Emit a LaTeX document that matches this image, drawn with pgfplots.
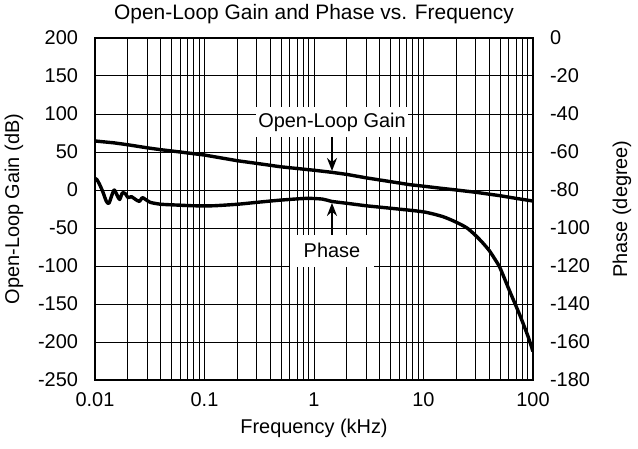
\documentclass[border=0pt]{standalone}
\usepackage{fontspec}
\setmainfont{Liberation Sans}
\usepackage{pgfplots}
\pgfplotsset{compat=1.18}
\usetikzlibrary{arrows.meta,calc}

% gain (dB) vs frequency (kHz)
\pgfplotstableread{
f      g
0.01   64.5
0.015  62
0.02   59.5
0.03   55.5
0.04   53
0.06   50
0.1    46
0.2    38.5
0.3    35
0.5    30.5
1      26
1.45   23.3
2      20.5
3      16
5      11
7.5    7
10     5
15     2
20     0
30     -3
50     -7.5
70     -11
100    -14.5
}\gaintab

% phase (degree) vs frequency (kHz)
\pgfplotstableread{
f      p
0.0100 -74
0.0104 -74.5
0.0110 -77
0.0118 -81
0.0127 -86
0.0134 -87
0.0142 -83
0.0150 -80
0.0160 -83
0.0168 -85
0.0178 -81.5
0.0190 -82
0.0200 -84
0.0215 -83.5
0.0235 -85
0.0255 -86
0.0270 -84
0.0290 -85
0.0320 -86.5
0.04   -87.5
0.06   -88
0.08   -88.3
0.12   -88.3
0.2    -87.5
0.3    -86.5
0.5    -85.3
0.86   -84.4
1.2    -84.8
1.45   -86
2      -87
3      -88.3
5      -89.6
10     -91.5
15     -94
20     -97
25     -100
30     -104
35     -108
40     -112
45     -116.5
50     -121
61     -133
76     -146
90     -157
100    -165
}\phasetab

\begin{document}
\begin{tikzpicture}[font=\fontsize{10}{12}\selectfont]
\begin{axis}[
  name=main,
  width=219bp, height=171bp, scale only axis,
  xmode=log, xmin=0.01, xmax=100,
  ymin=-250, ymax=200,
  ytick={-250,-200,...,200},
  xtick={0.01,0.1,1,10,100},
  xticklabels={0.01,0.1,1,10,100},
  major tick length=0pt, minor tick length=0pt,
  axis line style={line width=1bp},
  xminorgrids=true, xmajorgrids=true, ymajorgrids=true,
  grid style={black, line width=0.5bp},
  minor grid style={black, line width=0.5bp},
  yticklabel style={xshift=-5bp},
  xticklabel style={yshift=-3bp},
  title={Open-Loop Gain and Phase vs. Frequency},
  every axis title/.style={at={(axis description cs:0.5,1.07)}, anchor=center, font=\fontsize{10.5}{12}\selectfont},
  xlabel={Frequency (kHz)},
  every axis x label/.style={at={(axis description cs:0.5,-0.14)}, anchor=center},
  ylabel={Open-Loop Gain (dB)},
  every axis y label/.style={at={(axis description cs:-0.185,0.5)}, rotate=90, anchor=center},
  /pgf/number format/assume math mode=true,
]
\addplot[black, line width=1.7bp, line join=round] table[x=f, y=g] {\gaintab};
\node[fill=white, inner sep=0pt, minimum width=76bp, minimum height=15bp]
  at (axis cs:1.46,89.5) {Open-Loop Gain};
\draw[line width=1.3bp, -{Stealth[length=6.5bp, width=5bp]}] (axis cs:1.46,70) -- (axis cs:1.46,25);
\node[fill=white, inner sep=0pt, minimum width=42bp, minimum height=16bp]
  at (axis cs:1.46,-80) {Phase};
\draw[line width=1.3bp, -{Stealth[length=6.5bp, width=5bp]}] (axis cs:1.46,-59) -- (axis cs:1.46,-17);
\end{axis}
\begin{axis}[
  width=219bp, height=171bp, scale only axis,
  xmode=log, xmin=0.01, xmax=100,
  axis x line=none, axis y line*=right,
  ymin=-180, ymax=0,
  ytick={-180,-160,...,0},
  major tick length=0pt, minor tick length=0pt,
  axis line style={line width=1bp},
  yticklabel style={xshift=5bp},
  ylabel={Phase (degree)},
  every axis y label/.style={at={(axis description cs:1.203,0.5)}, rotate=90, anchor=center},
  /pgf/number format/assume math mode=true,
]
\addplot[black, line width=1.7bp, line join=round, smooth, tension=0.4] table[x=f, y=p] {\phasetab};
\end{axis}
\pgfresetboundingbox
\path ($(main.south west)+(-47.5bp,-34bp)$) rectangle ($(main.north east)+(52.5bp,19bp)$);
\end{tikzpicture}
\end{document}
